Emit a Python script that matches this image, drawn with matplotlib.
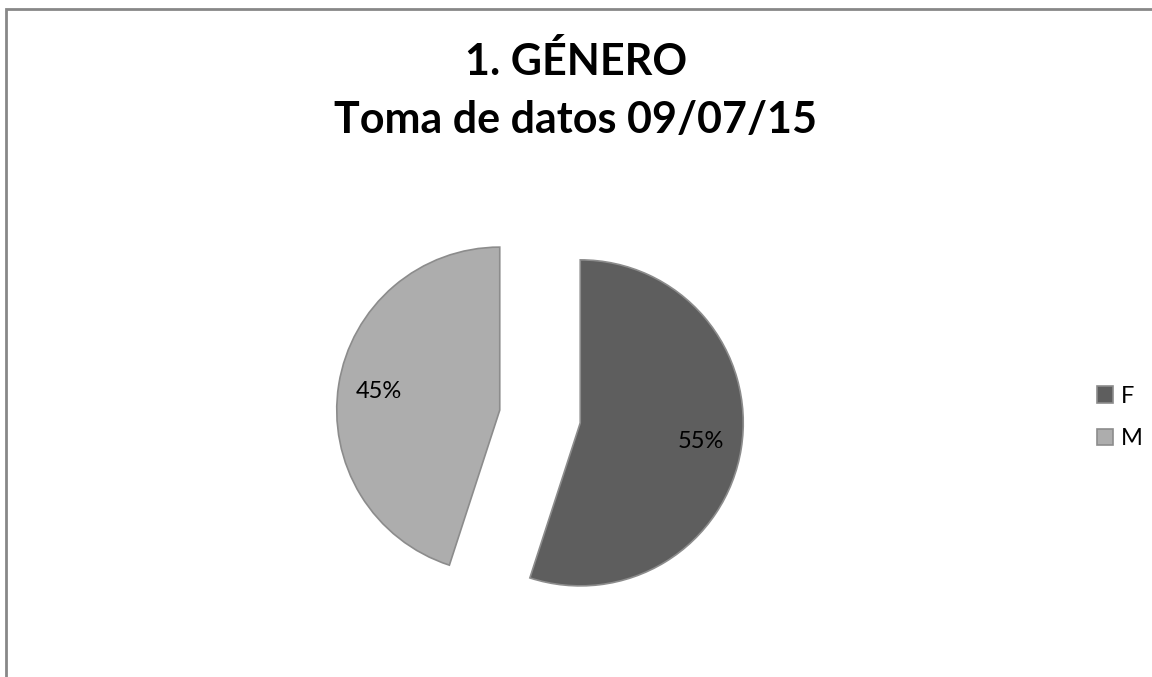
import matplotlib.pyplot as plt
from matplotlib.patches import Rectangle

# data
labels = ["F", "M"]
values = [55, 45]
colors = ["#5e5e5e", "#adadad"]
title_lines = ["1. GÉNERO", "Toma de datos 09/07/15"]

plt.rcParams['font.family'] = ['Lato', 'DejaVu Sans']

W, H = 1152, 677
R = 163  # pie radius in pixels
fig = plt.figure(figsize=(W / 100, H / 100), dpi=100)
ax = fig.add_axes([0, 0, 1, 1])

# explode is an absolute offset here (data units = pixels)
wedges, texts, autotexts = ax.pie(values,
                                  colors=colors,
                                  explode=[0.25 * R, 0.25 * R],
                                  startangle=90,
                                  counterclock=False,
                                  center=(540, H - 416.5),
                                  radius=R,
                                  autopct="%1.0f%%",
                                  pctdistance=0.75,
                                  wedgeprops=dict(edgecolor="#8c8c8c", linewidth=1.2),
                                  textprops=dict(fontsize=17, color="black"))

ax.set_xlim(0, W)
ax.set_ylim(0, H)
ax.set_aspect("equal")
ax.axis("off")

# title, two lines
fig.text(0.5, 1 - 75 / H, title_lines[0], ha="center", va="baseline",
         fontsize=31, fontweight="bold")
fig.text(0.5, 1 - 133 / H, title_lines[1], ha="center", va="baseline",
         fontsize=31, fontweight="bold")

ax.legend(wedges, labels,
          loc="center left",
          bbox_to_anchor=(1085 / W, 1 - 417.5 / H),
          frameon=False,
          fontsize=17,
          handlelength=0.7,
          handleheight=0.7,
          handletextpad=0.3,
          labelspacing=0.9,
          borderpad=0)

# chart border (right and bottom edges fall outside the picture)
fig.patches.append(Rectangle((6 / W, -0.05), 1.1, 1.05 - 9 / H,
                             transform=fig.transFigure, fill=False,
                             edgecolor="#888888", linewidth=2))

fig.savefig("out.png", dpi=100)
